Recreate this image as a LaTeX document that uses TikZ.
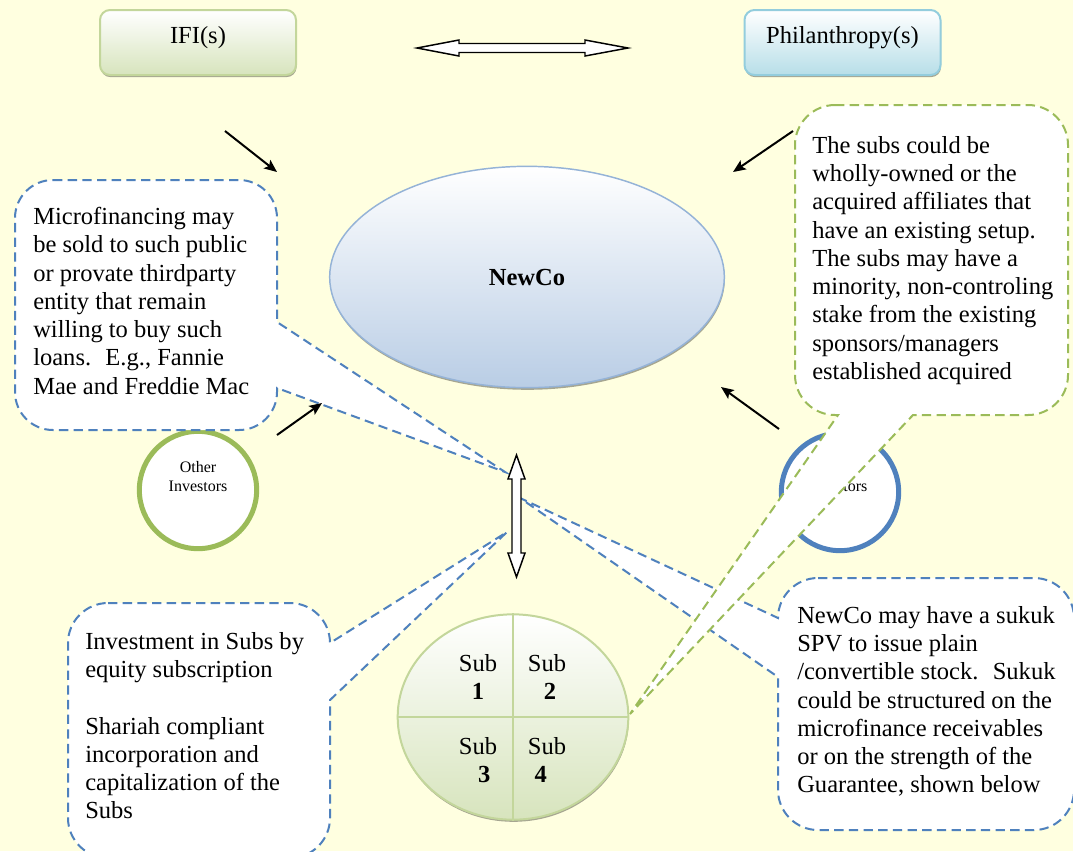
\documentclass[tikz,border=0pt]{standalone}
\usepackage{fontspec}
\setmainfont{Liberation Serif}
\usetikzlibrary{arrows.meta,shapes.geometric,shadows}
\definecolor{paper}{HTML}{FFFFE0}
\definecolor{olivefill}{HTML}{D7E4BD}
\definecolor{oliveline}{HTML}{C3D69B}
\definecolor{aquafill}{HTML}{B7DEE8}
\definecolor{aqualine}{HTML}{93CDDD}
\definecolor{bluefill}{HTML}{B9CDE5}
\definecolor{blueline}{HTML}{95B3D7}
\definecolor{accentblue}{HTML}{4F81BD}
\definecolor{accentgreen}{HTML}{9BBB59}
\begin{document}
\begin{tikzpicture}[x=0.75pt, y=-0.75pt,
  bodytext/.style={font=\fontsize{18.4}{21.2}\selectfont},
  notetext/.style={bodytext, align=left, anchor=north west, inner sep=0pt},
  smalltext/.style={font=\fontsize{12}{14.25}\selectfont, align=center, inner sep=0pt},
  subtext/.style={bodytext, align=center, inner sep=0pt},
  lift/.style={drop shadow={shadow xshift=0.4pt, shadow yshift=-1.6pt, fill=black, opacity=0.35}},
  topbox/.style={rounded corners=7.5pt, line width=1.5pt, minimum width=147pt, inner sep=0pt,
    text height=24.75pt, text depth=24pt, bodytext, lift},
  ringnode/.style={circle, fill=white, line width=3.75pt, minimum size=88pt, inner sep=0pt},
  calloutblue/.style={draw=accentblue, fill=white, line width=1.5pt, dash pattern=on 7pt off 4pt},
  calloutgreen/.style={draw=accentgreen, fill=white, line width=1.5pt, dash pattern=on 7pt off 4pt},
  thinarrow/.style={line width=1.5pt, -{Stealth[length=9.5pt,width=8pt,inset=2pt]}},
  fatarrow/.style={draw=black, fill=white, line width=1.1pt, line join=miter},
]
\useasboundingbox (0,0) rectangle (1073,851);
\clip (0,0) rectangle (1073,851);
\fill[paper] (0,0) rectangle (1073,851);

% partner boxes and the two-way link between them
\node[topbox, draw=oliveline, top color=white, bottom color=olivefill] (ifi) at (198,42.5) {IFI(s)};
\node[topbox, draw=aqualine, top color=white, bottom color=aquafill] (phil) at (842.5,42.5) {Philanthropy(s)};
\coordinate (hl) at (417,48);
\coordinate (hr) at (628,48);
\draw[fatarrow] (hl) -- ++(42,-8) -- ++(0,3.5) -- (585,43.5) -- ++(0,-3.5) -- (hr)
  -- ++(-43,8) -- ++(0,-3.5) -- (459,52.5) -- ++(0,3.5) -- cycle;

% holding company
\node[ellipse, draw=blueline, line width=1.1pt, top color=white, bottom color=bluefill,
  minimum width=296pt, minimum height=166pt, lift, bodytext] (newco) at (527,277) {\textbf{NewCo}};

% investor rings
\node[ringnode, draw=accentgreen] (other) at (198,490) {};
\node[smalltext] (othertext) at (198,477) {Other\\Investors};
\node[ringnode, draw=accentblue] (investors) at (840,492) {};
\node[smalltext] (investorstext) at (838,486) {Investors};

% subsidiaries
\node[ellipse, draw=oliveline, line width=1.5pt, top color=white, bottom color=olivefill,
  minimum width=173pt, minimum height=154pt, lift] (subs) at (513,717) {};
\draw[oliveline, line width=1.5pt] (subs.north) -- (subs.south);
\draw[oliveline, line width=1.5pt] (subs.west) -- (subs.east);
\node[subtext] (sub1) at (478,677) {Sub\\\textbf{1}};
\node[subtext] (sub2) at (547,677) {Sub\\\hspace*{0.25em}\textbf{2}};
\node[subtext] (sub3) at (478,760) {Sub\\\hspace*{0.5em}\textbf{3}};
\node[subtext] (sub4) at (547,760) {Sub\\\textbf{4}\hspace*{0.5em}};

% note: secondary market
\draw[calloutblue] (53,180) -- (239,180) .. controls (260,180) and (277,197) .. (277,218)
  -- (277,322) -- (505,472) -- (277,388) -- (277,392)
  .. controls (277,413) and (260,430) .. (239,430) -- (53,430)
  .. controls (32,430) and (15,413) .. (15,392) -- (15,218)
  .. controls (15,197) and (32,180) .. (53,180) -- cycle;
\node[notetext] (noteA) at (33,207) {Microfinancing may\\be sold to such public\\or provate thirdparty\\entity that remain\\willing to buy such\\loans.~ E.g., Fannie\\Mae and Freddie Mac};

% note: investment in subs
\draw[calloutblue] (108,603) -- (290,603) .. controls (312,603) and (330,621) .. (330,643)
  -- (507,532) -- (330,700) -- (330,818)
  .. controls (330,840) and (312,858) .. (290,858) -- (108,858)
  .. controls (86,858) and (68,840) .. (68,818) -- (68,643)
  .. controls (68,621) and (86,603) .. (108,603) -- cycle;
\node[notetext] (noteC) at (85,632) {Investment in Subs by\\equity subscription\\[21.2pt]Shariah compliant\\incorporation and\\capitalization of the\\Subs};

% note: sukuk
\draw[calloutblue] (818,578) -- (1034,578) .. controls (1056,578) and (1074,596) .. (1074,618)
  -- (1074,790) .. controls (1074,812) and (1056,830) .. (1034,830) -- (818,830)
  .. controls (796,830) and (778,812) .. (778,790) -- (778,677) -- (520,498) -- (778,618)
  .. controls (778,596) and (796,578) .. (818,578) -- cycle;
\node[notetext] (noteD) at (797,606) {NewCo may have a sukuk\\SPV to issue plain\\/convertible stock.~ Sukuk\\could be structured on the\\microfinance receivables\\or on the strength of the\\Guarantee, shown below};

% note: ownership of subs
\draw[calloutgreen] (835,105) -- (1028,105) .. controls (1050,105) and (1068,123) .. (1068,145)
  -- (1068,375) .. controls (1068,397) and (1050,415) .. (1028,415) -- (913,415)
  -- (630,714) -- (838,415) -- (835,415)
  .. controls (813,415) and (795,397) .. (795,375) -- (795,145)
  .. controls (795,123) and (813,105) .. (835,105) -- cycle;
\node[notetext] (noteB) at (812,136) {The subs could be\\wholly-owned or the\\acquired affiliates that\\have an existing setup.\\The subs may have a\\minority, non-controling\\stake from the existing\\sponsors/managers\\established acquired};

% flows into NewCo
\coordinate (a1s) at (225,131); \coordinate (a1e) at (277,172);
\coordinate (a2s) at (793,131); \coordinate (a2e) at (733,172);
\coordinate (a3s) at (277,435); \coordinate (a3e) at (322,403);
\coordinate (a4s) at (779,429); \coordinate (a4e) at (721,387);
\draw[thinarrow] (a1s) -- (a1e);
\draw[thinarrow] (a2s) -- (a2e);
\draw[thinarrow] (a3s) -- (a3e);
\draw[thinarrow] (a4s) -- (a4e);

% two-way link between NewCo and the subs
\coordinate (vt) at (516.5,455);
\coordinate (vb) at (516.5,577);
\draw[fatarrow] (vt) -- (525,479) -- (521,479) -- (521,553) -- (525,553) -- (vb)
  -- (508,553) -- (512,553) -- (512,479) -- (508,479) -- cycle;
\end{tikzpicture}
\end{document}
